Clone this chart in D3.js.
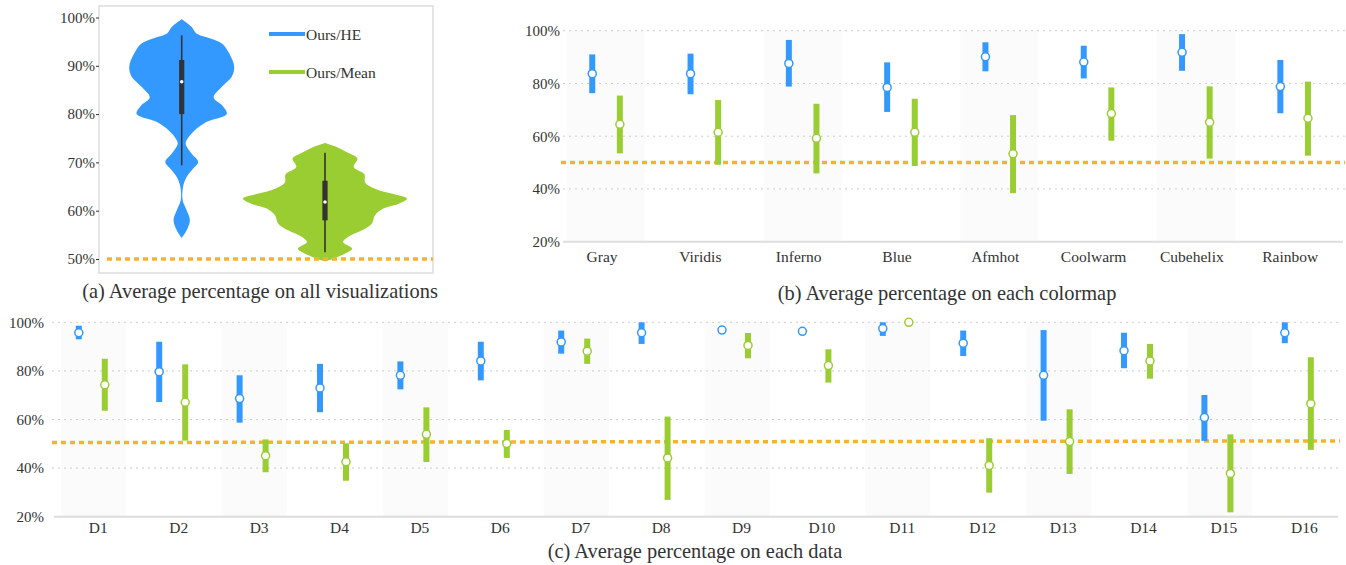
<!doctype html>
<html lang="en">
<head>
  <meta charset="utf-8">
  <title>Average percentage</title>
  <style>
    body { margin: 0; background: #fff; }
    svg text { font-family: "Liberation Serif", "DejaVu Serif", serif; fill: #333; }
    .grid line { stroke: #ccc; stroke-dasharray: 2,4; }
    .base { stroke: #ddd; stroke-width: 2; }
    .chance { stroke: #f8b22c; stroke-width: 3.5; stroke-dasharray: 5,4; fill: none; }
  </style>
</head>
<body>
  <div id="chart"></div>
  <script src="https://cdn.jsdelivr.net/npm/d3@7"></script>
  <script>
(function() {

  var width = 1346, height = 565;
  var blue = "#3399ff", green = "#9acd32";
  var serif = "'Liberation Serif', 'DejaVu Serif', serif";
  var series = ["Ours/HE", "Ours/Mean"];

  // (a) violin densities: [percent, relative width]
  var violinHE = [[54.35,0],[55.94,0.06],[58.01,0.1],[60.08,0.06],[62.15,0.012],[64.92,0.016],
    [66.99,0.06],[68.72,0.14],[70.10,0.2],[71.82,0.12],[73.76,0.05],[74.59,0.06],[76.66,0.16],
    [78.38,0.3],[80.04,0.55],[81.7,0.5],[83.43,0.39],[85.64,0.49],[87.71,0.61],[89.78,0.64],
    [92.54,0.58],[94.61,0.49],[95.65,0.35],[96.69,0.18],[98.07,0.12],[99.65,0]];
  var violinMean = [[49.52,0],[50.07,0.1],[51.10,0.24],[52.14,0.33],[53.52,0.22],[54.56,0.28],
    [55.94,0.45],[57.32,0.57],[59.05,0.61],[60.43,0.71],[61.46,0.9],[62.50,1.0],[63.54,0.81],
    [64.57,0.61],[65.81,0.49],[67.54,0.48],[69.06,0.35],[70.79,0.395],[71.82,0.3],[73.20,0.14],[74.03,0]];
  // box stats: [whisker low, q1, median, q3, whisker high]
  var boxHE = [69.4, 80.0, 86.7, 91.2, 96.3];
  var boxMean = [51.4, 58.0, 61.8, 66.2, 72.0];
  var ticksA = [50, 60, 70, 80, 90, 100];

  // (b) per colormap
  var colormaps = ["Gray", "Viridis", "Inferno", "Blue", "Afmhot", "Coolwarm", "Cubehelix", "Rainbow"];
  var cmHeMean = [83.7, 83.7, 87.6, 78.5, 90.1, 88.1, 91.8, 78.8];
  var cmHeLow = [76.3, 75.9, 78.8, 69.2, 84.6, 81.9, 84.8, 68.7];
  var cmHeHigh = [91.0, 91.3, 96.5, 88.0, 95.6, 94.3, 98.7, 88.9];
  var cmMeanMean = [64.5, 61.5, 59.2, 61.5, 53.3, 68.6, 65.3, 66.8];
  var cmMeanLow = [53.5, 49.2, 45.9, 48.7, 38.4, 58.3, 51.5, 52.6];
  var cmMeanHigh = [75.4, 73.7, 72.3, 74.2, 68.0, 78.5, 78.9, 80.7];

  // (c) per data
  var datasets = d3.range(1, 17).map(function(i) { return "D" + i; });
  var dHeMean = [95.7, 79.7, 68.6, 73.0, 78.2, 84.1, 91.9, 95.7, 96.8, 96.3, 97.4, 91.4, 78.2, 88.3, 60.8, 95.7];
  var dHeLow = [93.0, 67.2, 58.7, 63.0, 72.4, 76.1, 87.1, 91.1, 96.8, 96.3, 94.4, 86.1, 59.5, 81.1, 51.2, 91.4];
  var dHeHigh = [98.6, 92.0, 78.2, 82.9, 83.9, 92.0, 96.6, 100, 96.8, 96.3, 100, 96.6, 96.8, 95.7, 70.1, 100];
  var dMeanMean = [74.3, 67.1, 45.1, 42.6, 53.9, 50.1, 88.1, 44.2, 90.5, 82.2, 100, 41.1, 50.9, 84.1, 37.8, 66.5];
  var dMeanLow = [63.6, 51.3, 38.3, 34.8, 42.5, 44.2, 82.9, 26.9, 85.2, 75.2, 100, 29.9, 37.6, 76.8, 21.8, 47.5];
  var dMeanHigh = [85.0, 82.7, 51.8, 50.2, 65.0, 55.7, 93.3, 61.2, 95.6, 88.9, 100, 52.3, 64.2, 91.1, 53.9, 85.6];
  var chanceC = [50.5, 51.2];

  var ticksBC = [20, 40, 60, 80, 100];

  var svg = d3.select("#chart").append("svg")
      .attr("width", width).attr("height", height)
      .style("font-family", serif);

  function styleText(sel, size) {
    sel.attr("font-family", serif).style("font-family", serif)
      .style("font-size", size).attr("fill", "#333");
  }

  // ---------- (a) violins ----------
  var ga = svg.append("g");
  var ya = d3.scaleLinear().domain([50, 100]).range([259, 17.5]);
  var xa = d3.scalePoint().domain(series).range([181.7, 325]);
  var wa = d3.scaleLinear().domain([0, 1]).range([0, 82]);

  ga.append("rect").attr("x", 99).attr("y", 6).attr("width", 334).attr("height", 267)
    .attr("fill", "none").attr("stroke", "#ddd").attr("stroke-width", 1.5);

  var yAxisA = ga.append("g").attr("transform", "translate(99,0)")
    .call(d3.axisLeft(ya).tickValues(ticksA).tickFormat(function(d) { return d + "%"; })
      .tickSize(3).tickPadding(1));
  yAxisA.attr("font-family", null);
  yAxisA.select(".domain").remove();
  styleText(yAxisA.selectAll("text"), "15px");
  yAxisA.selectAll("line").attr("stroke", "#333");

  [[violinHE, series[0], blue, boxHE], [violinMean, series[1], green, boxMean]].forEach(function(v) {
    var cx = xa(v[1]);
    var area = d3.area().curve(d3.curveCatmullRom)
      .y(function(d) { return ya(d[0]); })
      .x0(function(d) { return cx - wa(d[1]); })
      .x1(function(d) { return cx + wa(d[1]); });
    ga.append("path").datum(v[0]).attr("d", area).attr("fill", v[2]);
    var b = v[3];
    ga.append("line").attr("x1", cx).attr("x2", cx).attr("y1", ya(b[0])).attr("y2", ya(b[4]))
      .attr("stroke", "#333").attr("stroke-width", 1.6);
    ga.append("rect").attr("x", cx - 2.6).attr("width", 5.2)
      .attr("y", ya(b[3])).attr("height", ya(b[1]) - ya(b[3])).attr("fill", "#333");
    ga.append("circle").attr("cx", cx).attr("cy", ya(b[2])).attr("r", 1.8).attr("fill", "#fff");
  });

  ga.append("line").attr("class", "chance").attr("x1", 107).attr("x2", 433)
    .attr("y1", ya(50)).attr("y2", ya(50));

  // legend
  var leg = ga.selectAll(".leg").data(series).enter().append("g")
    .attr("transform", function(d, i) { return "translate(269," + (34 + i * 38) + ")"; });
  leg.append("line").attr("x1", 0).attr("x2", 36).attr("stroke-width", 4)
    .attr("stroke", function(d, i) { return i ? green : blue; });
  styleText(leg.append("text").attr("x", 37).attr("y", 5.5).text(function(d) { return d; }), "15.5px");

  styleText(ga.append("text").attr("x", 260).attr("y", 298).attr("text-anchor", "middle")
    .text("(a) Average percentage on all visualizations"), "20.4px");

  // ---------- shared interval panel ----------
  function intervalPanel(opt) {
    var g = svg.append("g");
    var y = d3.scaleLinear().domain([20, 100]).range(opt.yRange);
    var x = d3.scaleBand().domain(opt.cats).range(opt.xRange);
    var bw = x.bandwidth();

    g.selectAll(".shade").data(opt.cats.filter(function(d, i) { return i % 2 === 0; }))
      .enter().append("rect")
      .attr("x", function(d) { return x(d) + bw / 2 + opt.shadeShift - opt.shadeW / 2; })
      .attr("width", opt.shadeW)
      .attr("y", y(100)).attr("height", y(20) - y(100))
      .attr("fill", "#fbfbfb");

    g.append("g").attr("class", "grid").selectAll("line").data(ticksBC.slice(1))
      .enter().append("line")
      .attr("x1", opt.gridX[0]).attr("x2", opt.gridX[1])
      .attr("y1", function(d) { return y(d); }).attr("y2", function(d) { return y(d); });

    g.append("line").attr("class", "base").attr("x1", opt.baseX[0]).attr("x2", opt.baseX[1])
      .attr("y1", y(20)).attr("y2", y(20));

    var ay = g.append("g").attr("transform", "translate(" + opt.gridX[0] + ",0)")
      .call(d3.axisLeft(y).tickValues(ticksBC).tickFormat(function(d) { return d + "%"; })
        .tickSize(0).tickPadding(opt.yPad));
    ay.select(".domain").remove();
    styleText(ay.selectAll("text"), "15px");

    var ax = g.append("g").attr("transform", "translate(0," + y(20) + ")")
      .call(d3.axisBottom(x).tickSize(0).tickPadding(opt.xPad));
    ax.select(".domain").remove();
    styleText(ax.selectAll("text"), "15.5px");
    ax.selectAll("text").attr("dx", opt.labelShift);

    g.append("path").attr("class", "chance")
      .attr("d", d3.line()([[opt.baseX[0] - 2, y(opt.chance[0])], [opt.baseX[1] + 2, y(opt.chance[1])]]));

    opt.groups.forEach(function(s, k) {
      var off = (k ? 1 : -1) * opt.pair;
      var col = k ? green : blue;
      var gg = g.append("g");
      gg.selectAll("line").data(opt.cats).enter().append("line")
        .attr("x1", function(d) { return x(d) + bw / 2 + off; })
        .attr("x2", function(d) { return x(d) + bw / 2 + off; })
        .attr("y1", function(d, i) { return y(s.low[i]); })
        .attr("y2", function(d, i) { return y(s.high[i]); })
        .attr("stroke", col).attr("stroke-width", 6);
      gg.selectAll("circle").data(opt.cats).enter().append("circle")
        .attr("cx", function(d) { return x(d) + bw / 2 + off; })
        .attr("cy", function(d, i) { return y(s.mean[i]); })
        .attr("r", 4).attr("fill", "#fff").attr("stroke", col).attr("stroke-width", 1.5);
    });

    styleText(g.append("text").attr("x", opt.caption[0]).attr("y", opt.caption[1])
      .attr("text-anchor", "middle").text(opt.caption[2]), "20.4px");
  }

  intervalPanel({
    cats: colormaps, yRange: [241.7, 30.7], xRange: [556.9, 1343.3],
    gridX: [563, 1345], baseX: [563, 1343], yPad: 3, xPad: 9, labelShift: -4,
    shadeW: 78, shadeShift: 0, pair: 13.8, chance: [50, 50],
    groups: [{ mean: cmHeMean, low: cmHeLow, high: cmHeHigh },
             { mean: cmMeanMean, low: cmMeanLow, high: cmMeanHigh }],
    caption: [947, 300, "(b) Average percentage on each colormap"]
  });

  intervalPanel({
    cats: datasets, yRange: [516.7, 322.3], xRange: [51.6, 1338],
    gridX: [52, 1340], baseX: [54, 1338], yPad: 8, xPad: 5, labelShift: 6.5,
    shadeW: 65, shadeShift: 2, pair: 13, chance: chanceC,
    groups: [{ mean: dHeMean, low: dHeLow, high: dHeHigh },
             { mean: dMeanMean, low: dMeanLow, high: dMeanHigh }],
    caption: [695, 558, "(c) Average percentage on each data"]
  });

})();
  </script>
</body>
</html>
